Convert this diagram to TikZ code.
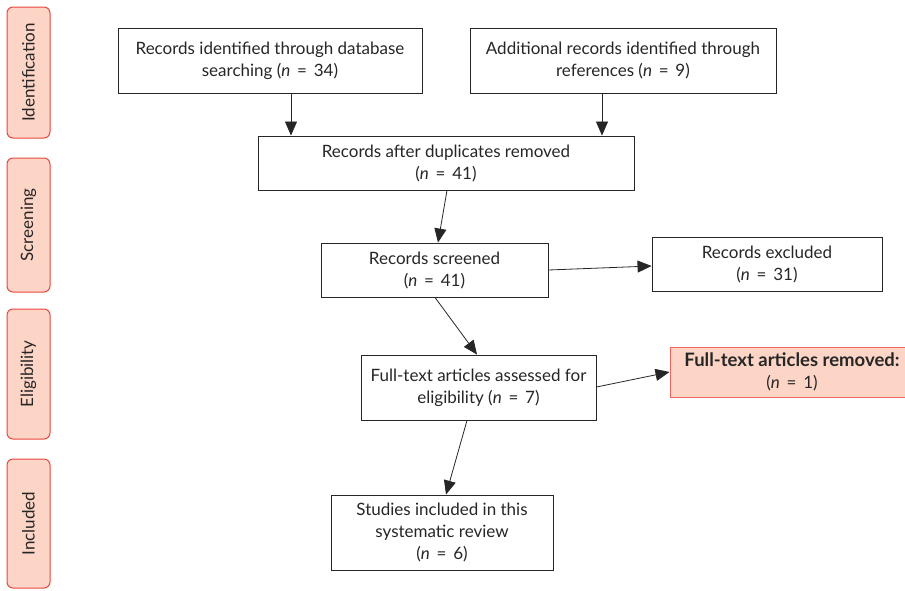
\documentclass[tikz,border=0pt]{standalone}
\usepackage{fontspec}
\setmainfont{Lato}
\usetikzlibrary{arrows.meta,calc}
\definecolor{pinkfill}{HTML}{FDD5C6}
\definecolor{redline}{HTML}{E8473D}
\definecolor{lightred}{HTML}{F0675C}
\definecolor{ink}{HTML}{262626}
\newcommand{\myeq}{\hspace{0.4em}=\hspace{0.4em}}
\tikzset{
  flowbox/.style={draw=ink, line width=0.9pt, rectangle, align=center, inner sep=2pt,
    font=\fontsize{17}{22}\selectfont, text=ink},
  phase/.style={draw=redline, fill=pinkfill, line width=1pt, rounded corners=6pt,
    minimum width=43pt, text=ink, font=\fontsize{17}{18}\selectfont},
  redbox/.style={draw=lightred, fill=pinkfill, line width=1pt, rectangle, align=center,
    font=\fontsize{17}{22}\selectfont, text=ink},
  flowarrow/.style={draw=ink, line width=0.8pt, -{Triangle[length=14pt,width=12pt]}}
}
\begin{document}
\begin{tikzpicture}[x=1pt,y=-1pt]
\useasboundingbox (0,0) rectangle (905,590);
% phase labels
\node[phase, minimum height=131pt] (p1) at (28.5,72.5) {\rotatebox{90}{Identification}};
\node[phase, minimum height=134pt] (p2) at (28.5,225) {\rotatebox{90}{Screening}};
\node[phase, minimum height=130pt] (p3) at (28.5,374) {\rotatebox{90}{Eligibility}};
\node[phase, minimum height=129pt] (p4) at (28.5,523.5) {\rotatebox{90}{Included}};
% boxes
\node[flowbox, minimum width=304pt, minimum height=65pt] (A) at (270,60.5)
  {Records identified through database\\searching (\textit{n}\myeq 34)};
\node[flowbox, minimum width=306pt, minimum height=65pt] (B) at (623,60.5)
  {Additional records identified through\\references (\textit{n}\myeq 9)};
\node[flowbox, minimum width=376pt, minimum height=54pt] (C) at (446,163)
  {Records after duplicates removed\\(\textit{n}\myeq 41)};
\node[flowbox, minimum width=227pt, minimum height=54pt] (D) at (434.5,270)
  {Records screened\\(\textit{n}\myeq 41)};
\node[flowbox, minimum width=230pt, minimum height=54pt] (E) at (767,264)
  {Records excluded\\(\textit{n}\myeq 31)};
\node[flowbox, minimum width=235pt, minimum height=65pt] (F) at (478.5,387.5)
  {Full-text articles assessed for\\eligibility (\textit{n}\myeq 7)};
\node[redbox, minimum width=244pt, minimum height=50pt] (G) at (792,372)
  {{\fontsize{18.5}{22}\selectfont\bfseries Full-text articles removed:}\\(\textit{n}\myeq 1)};
\node[flowbox, minimum width=222pt, minimum height=75pt] (H) at (442,532.5)
  {Studies included in this\\systematic review\\(\textit{n}\myeq 6)};
% arrows
\draw[flowarrow] (A.south -| 291,0) -- (C.north -| 291,0);
\draw[flowarrow] (B.south -| 602,0) -- (C.north -| 602,0);
\draw[flowarrow] (C.south -| 447,0) -- (D.north -| 438,0);
\draw[flowarrow] (D.east |- 0,270) -- (E.west |- 0,266);
\draw[flowarrow] (D.south -| 435,0) -- (F.north -| 477,0);
\draw[flowarrow] (F.east |- 0,387) -- (G.west |- 0,372);
\draw[flowarrow] (F.south -| 467,0) -- (H.north -| 446,0);
\end{tikzpicture}
\end{document}
